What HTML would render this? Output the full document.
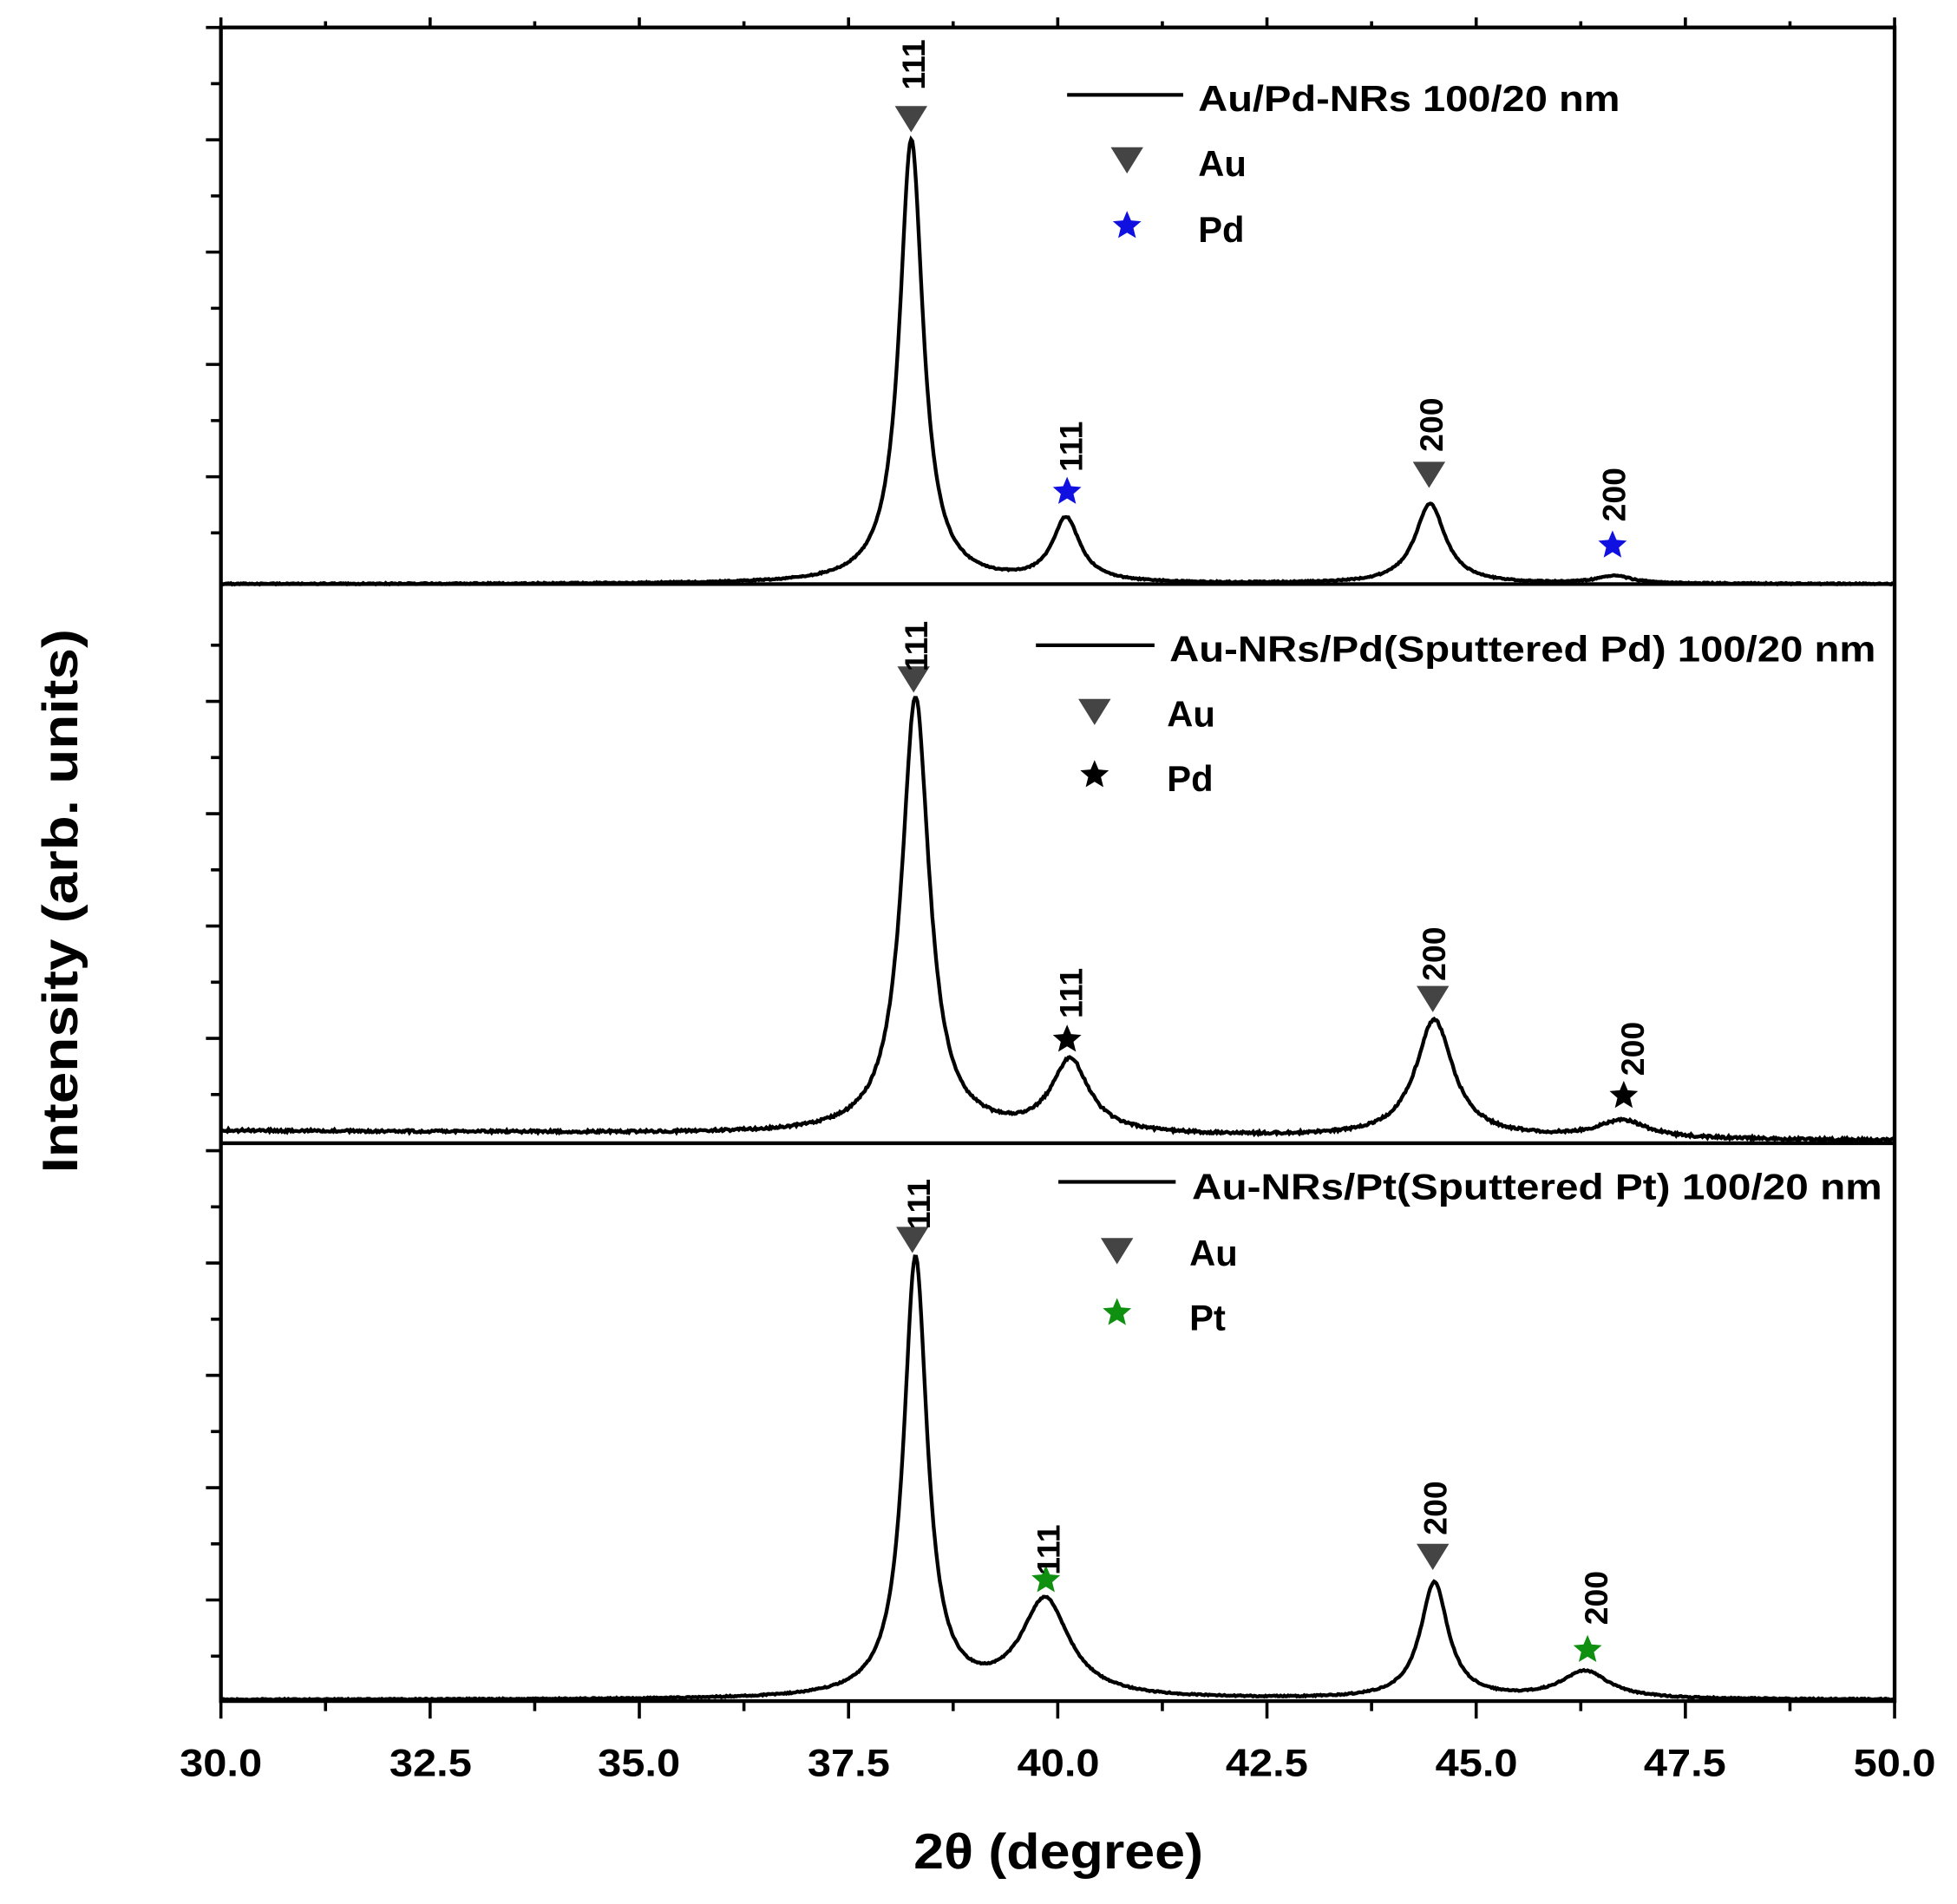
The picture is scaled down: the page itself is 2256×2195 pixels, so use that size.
<!DOCTYPE html>
<html><head><meta charset="utf-8"><style>
html,body{margin:0;padding:0;background:#fff}
svg{display:block}
text{font-family:"Liberation Sans",Arial,sans-serif;font-weight:bold;fill:#000}
</style></head><body>
<svg id="s" width="2256" height="2195" viewBox="0 0 1568 1525.6" preserveAspectRatio="none" xmlns="http://www.w3.org/2000/svg">
<rect width="1568" height="1526" fill="#fff"/>
<g id="ticks" stroke="#000" stroke-width="2.5"></g>
<g id="curves" fill="none" stroke="#000" stroke-width="3"></g>
<rect x="177" y="22" width="1341" height="1341" fill="none" stroke="#000" stroke-width="3"/>
<line x1="177" y1="468" x2="1518" y2="468" stroke="#000" stroke-width="3"/>
<line x1="177" y1="916" x2="1518" y2="916" stroke="#000" stroke-width="3"/>
<g font-size="31" text-anchor="middle">
<text x="177" y="1423" textLength="66" lengthAdjust="spacingAndGlyphs">30.0</text><text x="345" y="1423" textLength="66" lengthAdjust="spacingAndGlyphs">32.5</text><text x="512" y="1423" textLength="66" lengthAdjust="spacingAndGlyphs">35.0</text>
<text x="680" y="1423" textLength="66" lengthAdjust="spacingAndGlyphs">37.5</text><text x="848" y="1423" textLength="66" lengthAdjust="spacingAndGlyphs">40.0</text><text x="1015" y="1423" textLength="66" lengthAdjust="spacingAndGlyphs">42.5</text>
<text x="1183" y="1423" textLength="66" lengthAdjust="spacingAndGlyphs">45.0</text><text x="1350" y="1423" textLength="66" lengthAdjust="spacingAndGlyphs">47.5</text><text x="1518" y="1423" textLength="66" lengthAdjust="spacingAndGlyphs">50.0</text>
</g>
<text x="848" y="1497" font-size="40" text-anchor="middle" textLength="232" lengthAdjust="spacingAndGlyphs">2θ (degree)</text>
<text transform="translate(62,722) rotate(-90)" font-size="40" text-anchor="middle" textLength="436" lengthAdjust="spacingAndGlyphs">Intensity (arb. units)</text>
<g font-size="29">
<line x1="855" y1="76" x2="948" y2="76" stroke="#000" stroke-width="3"/><text x="960" y="89" textLength="338" lengthAdjust="spacingAndGlyphs">Au/Pd-NRs 100/20 nm</text>
<text x="960" y="141">Au</text><text x="960" y="194">Pd</text>
<line x1="830" y1="517" x2="925" y2="517" stroke="#000" stroke-width="3"/><text x="937" y="530" textLength="566" lengthAdjust="spacingAndGlyphs">Au-NRs/Pd(Sputtered Pd) 100/20 nm</text>
<text x="935" y="582">Au</text><text x="935" y="634">Pd</text>
<line x1="848" y1="947" x2="942" y2="947" stroke="#000" stroke-width="3"/><text x="955" y="961" textLength="553" lengthAdjust="spacingAndGlyphs">Au-NRs/Pt(Sputtered Pt) 100/20 nm</text>
<text x="953" y="1014">Au</text><text x="953" y="1066">Pt</text>
</g>
<g id="marks"></g>
<g font-size="26">
<text transform="translate(741,72) rotate(-90)">111</text>
<text transform="translate(867,378) rotate(-90)">111</text>
<text transform="translate(1156,362) rotate(-90)">200</text>
<text transform="translate(1302,418) rotate(-90)">200</text>
<text transform="translate(743,538) rotate(-90)">111</text>
<text transform="translate(867,816) rotate(-90)">111</text>
<text transform="translate(1158,786) rotate(-90)">200</text>
<text transform="translate(1317,862) rotate(-90)">200</text>
<text transform="translate(745,985) rotate(-90)">111</text>
<text transform="translate(849,1262) rotate(-90)">111</text>
<text transform="translate(1159,1230) rotate(-90)">200</text>
<text transform="translate(1288,1302) rotate(-90)">200</text>
</g>
</svg>
<script>
var NS="http://www.w3.org/2000/svg";
function X(d){return 177+(d-30)*67.05;}
var t=document.getElementById('ticks'),p="";
for(var d=30;d<=50.001;d+=1.25){var big=Math.abs(d/2.5-Math.round(d/2.5))<0.01;var x=X(d);
p+="M"+x+" 1363v"+(big?14:8);
p+="M"+x+" 22v-"+(big?8:5);}
for(var y=22;y<1363;y+=45){ if(Math.abs(y-468)<5||Math.abs(y-916)<5) continue; p+="M177 "+y+"h-"+(((y-22)/45)%2?8:12);}
var e=document.createElementNS(NS,'path');e.setAttribute('d',p);t.appendChild(e);
function L(x,c,w){var u=(x-c)/w;return 1/(1+u*u);}
function curve(base,peaks,noise,slope){var s="";for(var i=0;i<=1340;i++){var d=30+i/67.05;var y=base;
 if(slope)y-=slope*(50-d)/20;
 for(var k=0;k<peaks.length;k++){var q=peaks[k];y-=q[1]*L(d,q[0],q[2]);}
 if(noise)y+=(Math.random()-0.5)*noise;
 s+=(i?"L":"M")+(177+i).toFixed(1)+" "+y.toFixed(1);}
 var e=document.createElementNS(NS,'path');e.setAttribute('d',s);document.getElementById('curves').appendChild(e);}
curve(468,[[38.25,356,0.17],[40.1,51,0.2],[44.45,64,0.22],[46.65,6,0.25]],1,0);
curve(914,[[38.3,350,0.2],[40.15,58,0.27],[44.5,94,0.27],[46.75,14,0.35]],2,8);
curve(1362,[[38.3,352,0.17],[39.85,78,0.35],[44.5,93,0.2],[46.3,22,0.35]],1,0);
function tri(x,y,c){return '<path d="M'+(x-13)+' '+(y-10)+'h26l-13 21z" fill="'+c+'"/>';}
function star(x,y,c,r){var s="";for(var i=0;i<10;i++){var a=-Math.PI/2+i*Math.PI/5,rr=i%2?r*0.45:r;s+=(i?"L":"M")+(x+rr*Math.cos(a)).toFixed(1)+" "+(y+rr*Math.sin(a)).toFixed(1);}return '<path d="'+s+'z" fill="'+c+'"/>';}
var m="";
m+=tri(730,95,"#444")+tri(903,128,"#444")+star(903,181,"#1010e0",12);
m+=star(855,394,"#1010e0",12)+tri(1145,380,"#444")+star(1292,437,"#1010e0",12);
m+=tri(732,544,"#444")+tri(877,570,"#444")+star(877,621,"#000",12);
m+=star(855,833,"#000",12)+tri(1148,800,"#444")+star(1301,878,"#000",12);
m+=tri(731,993,"#444")+tri(895,1002,"#444")+star(895,1052,"#109010",12);
m+=star(838,1266,"#109010",12)+tri(1148,1247,"#444")+star(1272,1322,"#109010",12);
document.getElementById('marks').innerHTML=m;
</script>
</body></html>
